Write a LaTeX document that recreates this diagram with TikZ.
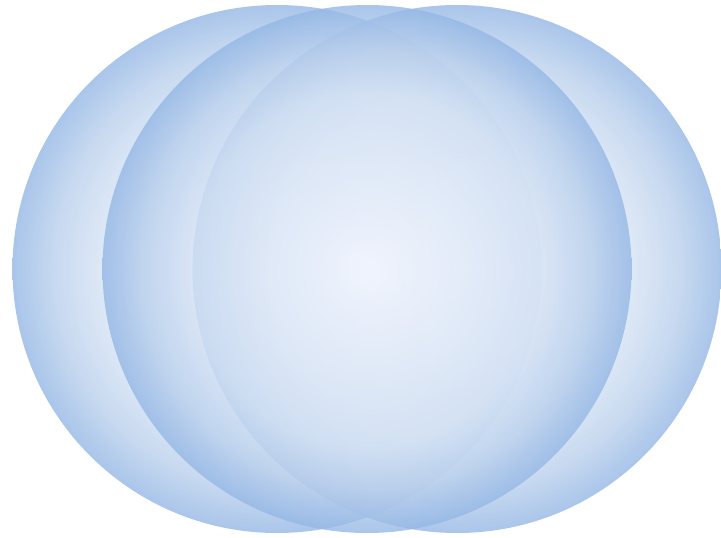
\documentclass[tikz,border=0pt]{standalone}
\definecolor{bA}{RGB}{243,246,254}
\definecolor{bB}{RGB}{228,236,249}
\definecolor{bC}{RGB}{212,226,244}
\definecolor{bD}{RGB}{186,208,236}
\definecolor{bE}{RGB}{148,183,229}
\pgfdeclareradialshading{ballshade}{\pgfpoint{0bp}{0bp}}{color(0bp)=(bA); color(8bp)=(bB); color(16.75bp)=(bC); color(21bp)=(bD); color(25bp)=(bE); color(50bp)=(bE)}
\tikzset{bubble/.style={shading=ballshade, fill opacity=0.8}}
\begin{document}
\begin{tikzpicture}[x=1pt,y=-1pt]
\useasboundingbox (0,0) rectangle (721,538);
\coordinate (cl) at (277,269);
\coordinate (cm) at (367,269);
\coordinate (cr) at (457,269);
\shade[bubble] (cl) ellipse [x radius=264.5, y radius=264];
\shade[bubble] (cr) ellipse [x radius=264.5, y radius=264];
\shade[bubble] (cm) ellipse [x radius=264.5, y radius=264];
\end{tikzpicture}
\end{document}
